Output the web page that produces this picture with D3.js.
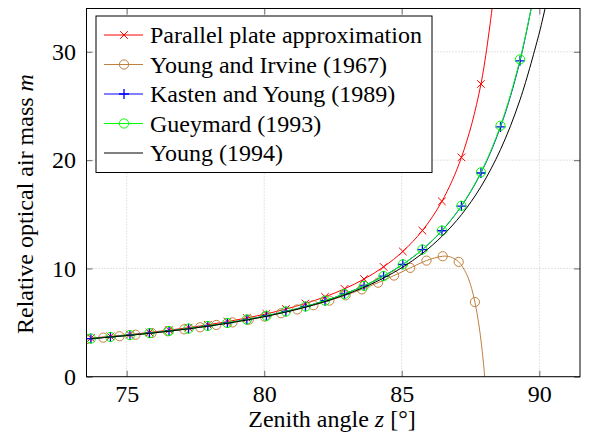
<!DOCTYPE html>
<html>
<head>
<meta charset="utf-8">
<script src="https://cdn.jsdelivr.net/npm/d3@7"></script>
<style>
  body { margin: 0; background: #fff; }
</style>
</head>
<body>
<div id="chart"></div>
<script>
// zenith angles (deg) of the shared sample points
const zGrid = [73.70, 74.41, 75.12, 75.83, 76.54, 77.25, 77.95, 78.66, 79.37, 80.08, 80.79, 81.50,
  82.21, 82.92, 83.63, 84.34, 85.04, 85.75, 86.46, 87.17, 87.88, 88.59, 89.30, 90.01];

const parallelM = [3.563, 3.721, 3.894, 4.085, 4.296, 4.531, 4.790, 5.086, 5.421, 5.805, 6.248, 6.766,
  7.378, 8.113, 9.013, 10.139, 11.566, 13.494, 16.195, 20.254, 27.032, 40.64];

const kastenM = [3.524, 3.676, 3.842, 4.024, 4.225, 4.447, 4.691, 4.967, 5.277, 5.628, 6.028, 6.489,
  7.024, 7.650, 8.396, 9.293, 10.374, 11.739, 13.478, 15.752, 18.812, 23.067, 29.171, 38.07];

const gueymardM = [3.522, 3.674, 3.840, 4.022, 4.222, 4.444, 4.687, 4.962, 5.272, 5.622, 6.022, 6.483,
  7.017, 7.644, 8.389, 9.289, 10.373, 11.744, 13.494, 15.787, 18.879, 23.177, 29.301, 37.95];

// Young (1994) line, same grid then past the horizon
const youngZ = zGrid.slice(0, 23).concat([90.0, 90.1, 90.2, 90.3]);
const youngM = [3.510, 3.661, 3.825, 4.005, 4.204, 4.423, 4.662, 4.934, 5.238, 5.582, 5.972, 6.421,
  6.939, 7.543, 8.256, 9.108, 10.122, 11.383, 12.958, 14.958, 17.550, 20.973, 25.572,
  31.735, 32.782, 33.878, 35.024];

// Young and Irvine (1967): marked points, then extra line points
const yiZ = [73.56, 74.15, 74.74, 75.32, 75.91, 76.50, 77.09, 77.67, 78.26, 78.85, 79.44, 80.02,
  80.61, 81.20, 81.79, 82.37, 82.96, 83.55, 84.14, 84.72, 85.31, 85.90, 86.49, 87.07, 87.66];
const yiM = [3.485, 3.607, 3.738, 3.877, 4.029, 4.194, 4.374, 4.565, 4.778, 5.012, 5.268, 5.547,
  5.860, 6.209, 6.599, 7.028, 7.517, 8.066, 8.679, 9.340, 10.049, 10.720, 11.124, 10.602, 6.892];
const yiTailZ = [86.78, 87.35, 87.50, 87.80, 87.90, 88.00, 88.10];
const yiTailM = [11.053, 9.513, 8.494, 4.868, 2.935, 0.457, -2.728];

const xTicks = [75, 80, 85, 90];
const yTicks = [0, 10, 20, 30];

const names = ["Parallel plate approximation", "Young and Irvine (1967)", "Kasten and Young (1989)",
  "Gueymard (1993)", "Young (1994)"];

const width = 593;
const height = 444;
const m = { left: 86.5, right: 13, top: 8.5, bottom: 67.3 };
const iw = width - m.left - m.right;
const ih = height - m.top - m.bottom;
const font = "Liberation Serif";
const fs = 24;

const x = d3.scaleLinear().domain([73.54, 91.48]).range([0, iw]);
const y = d3.scaleLinear().domain([0, 34]).range([ih, 0]);

const svg = d3.select("#chart").append("svg")
  .attr("width", width)
  .attr("height", height)
  .attr("font-family", font);

const g = svg.append("g").attr("transform", `translate(${m.left},${m.top})`);

g.append("clipPath").attr("id", "clip")
  .append("rect").attr("width", iw).attr("height", ih);

// grid
g.append("g").selectAll("line").data(xTicks).join("line")
  .attr("x1", (d) => x(d)).attr("x2", (d) => x(d))
  .attr("y1", 0).attr("y2", ih)
  .attr("stroke", "#c8c8c8").attr("stroke-dasharray", "1,2");
g.append("g").selectAll("line").data(yTicks).join("line")
  .attr("y1", (d) => y(d)).attr("y2", (d) => y(d))
  .attr("x1", 0).attr("x2", iw)
  .attr("stroke", "#c8c8c8").attr("stroke-dasharray", "1,2");

// axes with inward ticks
const xb = g.append("g").attr("transform", `translate(0,${ih})`)
  .call(d3.axisBottom(x).tickValues(xTicks).tickSize(-6).tickPadding(8));
const yl = g.append("g")
  .call(d3.axisLeft(y).tickValues(yTicks).tickSize(-6).tickPadding(10.5));
const xt = g.append("g")
  .call(d3.axisTop(x).tickValues(xTicks).tickSize(-6).tickFormat(""));
const yr = g.append("g").attr("transform", `translate(${iw},0)`)
  .call(d3.axisRight(y).tickValues(yTicks).tickSize(-6).tickFormat(""));
[xb, yl, xt, yr].forEach((a) => {
  a.attr("font-family", font).attr("font-size", fs);
  a.select(".domain").remove();
  a.selectAll(".tick line").attr("stroke", "#808080").attr("stroke-width", 1.2);
  a.selectAll("text").attr("font-family", font).attr("font-size", fs).attr("fill", "#000");
});

const line = d3.line()
  .x((d) => x(d[0]))
  .y((d) => y(d[1]))
  .curve(d3.curveCatmullRom.alpha(0.5));

const zip = (zs, ms) => ms.map((v, i) => [zs[i], v]);

const parallel = zip(zGrid, parallelM);
const kasten = zip(zGrid, kastenM);
const gueymard = zip(zGrid, gueymardM);
const young = zip(youngZ, youngM);
const yiMarks = zip(yiZ, yiM);
const yiLine = yiMarks.concat(zip(yiTailZ, yiTailM)).sort((a, b) => a[0] - b[0]);

const series = [
  { name: names[0], color: "#ff0000", line: parallel, marks: parallel, mark: "x" },
  { name: names[1], color: "#bf8040", line: yiLine, marks: yiMarks, mark: "o" },
  { name: names[2], color: "#0000ff", line: kasten, marks: kasten, mark: "+" },
  { name: names[3], color: "#00ff00", line: gueymard, marks: gueymard, mark: "o" },
  { name: names[4], color: "#000000", line: young, marks: [], mark: null },
];

function drawMark(sel, type, color) {
  if (type === "x") {
    const r = 3.8;
    sel.append("path").attr("d", `M${-r},${-r}L${r},${r}M${-r},${r}L${r},${-r}`)
      .attr("stroke", color).attr("stroke-width", 1).attr("fill", "none");
  } else if (type === "+") {
    const r = 5;
    sel.append("path").attr("d", `M${-r},0L${r},0M0,${-r}L0,${r}`)
      .attr("stroke", color).attr("stroke-width", 1.3).attr("fill", "none");
  } else if (type === "o") {
    sel.append("circle").attr("r", 4.6)
      .attr("stroke", color).attr("stroke-width", 1).attr("fill", "none");
  }
}

const plot = g.append("g").attr("clip-path", "url(#clip)");
series.forEach((s) => {
  plot.append("path").datum(s.line)
    .attr("d", line)
    .attr("fill", "none")
    .attr("stroke", s.color)
    .attr("stroke-width", 1);
  const inView = s.marks.filter((d) => d[1] <= 34 && d[1] >= 0);
  plot.append("g").selectAll("g").data(inView).join("g")
    .attr("transform", (d) => `translate(${x(d[0])},${y(d[1])})`)
    .each(function () { drawMark(d3.select(this), s.mark, s.color); });
});

// frame
g.append("rect").attr("width", iw).attr("height", ih)
  .attr("fill", "none").attr("stroke", "#000").attr("stroke-width", 1);

// legend
const lg = svg.append("g").attr("transform", "translate(96,16)");
lg.append("rect").attr("width", 336).attr("height", 156.5)
  .attr("fill", "#fff").attr("stroke", "#000").attr("stroke-width", 1);
series.forEach((s, i) => {
  const row = lg.append("g").attr("transform", `translate(0,${19 + i * 29.5})`);
  row.append("line").attr("x1", 8).attr("x2", 47)
    .attr("stroke", s.color).attr("stroke-width", 1);
  const mk = row.append("g").attr("transform", "translate(28,0)");
  drawMark(mk, s.mark, s.color);
  row.append("text").attr("x", 54).attr("y", 8)
    .attr("font-family", font).attr("font-size", fs).text(s.name);
});

// axis labels
const xlab = svg.append("text")
  .attr("x", 332).attr("y", 427)
  .attr("text-anchor", "middle").attr("font-family", font).attr("font-size", fs);
xlab.append("tspan").text("Zenith angle ");
xlab.append("tspan").attr("font-style", "italic").text("z");
xlab.append("tspan").text(" [°]");

const ylab = svg.append("text")
  .attr("transform", "translate(33,204) rotate(-90)")
  .attr("text-anchor", "middle").attr("font-family", font).attr("font-size", fs);
ylab.append("tspan").text("Relative optical air mass ");
ylab.append("tspan").attr("font-style", "italic").text("m");
</script>
</body>
</html>
